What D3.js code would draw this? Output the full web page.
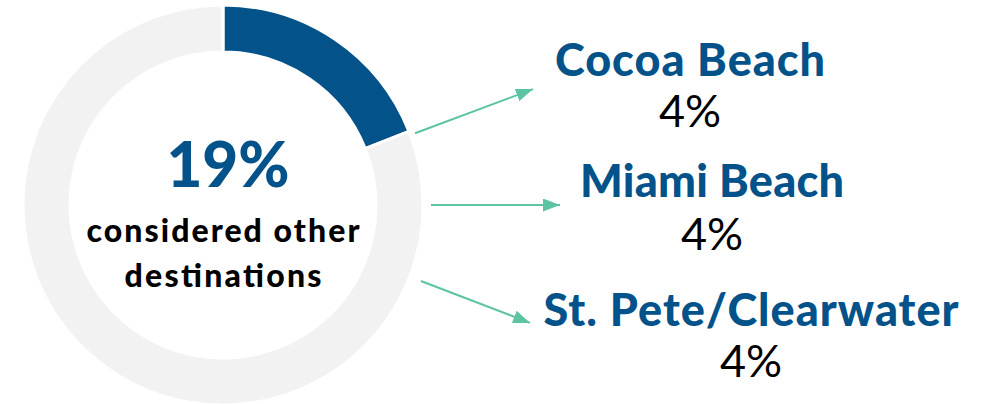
<!DOCTYPE html>
<html>
<head>
<meta charset="utf-8">
<script src="https://cdn.jsdelivr.net/npm/d3@7"></script>
<style>
  html, body { margin: 0; padding: 0; background: #fff; }
  svg { display: block; }
</style>
</head>
<body>
<div class="vis-donut"></div>
<script>
// data
const shareLabels = ["Other destinations", "Rest"];
const shareValues = [19, 81];
const destinations = ["Cocoa Beach", "Miami Beach", "St. Pete/Clearwater"];
const destinationValues = [4, 4, 4];
const centerLines = ["considered other", "destinations"];

const width = 992, height = 404;
const cx = 223, cy = 205;
const outerR = 200, innerR = 153;
const blue = "#03528a", grey = "#f2f2f2", teal = "#5cc3a3";

const svg = d3.select(".vis-donut")
    .append("svg")
    .attr("width", width)
    .attr("height", height);

// arrow head
svg.append("defs").append("marker")
    .attr("id", "head")
    .attr("viewBox", "0 0 10 10")
    .attr("preserveAspectRatio", "none")
    .attr("refX", 10).attr("refY", 5)
    .attr("markerWidth", 17).attr("markerHeight", 13)
    .attr("markerUnits", "userSpaceOnUse")
    .attr("orient", "auto")
    .append("path")
    .attr("d", "M0,0L10,5L0,10Z")
    .attr("fill", teal);

const pie = d3.pie().sort(null).value(d => d);
const arc = d3.arc().innerRadius(innerR).outerRadius(outerR);

const g = svg.append("g")
    .attr("transform", "translate(" + cx + "," + cy + ")");

g.selectAll(".slice")
    .data(pie(shareValues))
    .enter()
    .append("path")
    .attr("class", "slice")
    .attr("d", arc)
    .attr("fill", (d, i) => i === 0 ? blue : grey)
    .attr("stroke", "#fff")
    .attr("stroke-width", 3);

// center text
g.append("text")
    .attr("x", 5).attr("y", -18)
    .attr("text-anchor", "middle")
    .attr("textLength", 123)
    .attr("lengthAdjust", "spacing")
    .style("font-family", "Lato")
    .style("font-weight", 900)
    .style("font-size", "62px")
    .attr("fill", blue)
    .text(shareValues[0] + "%");

const centerWidths = [273, 197];
g.selectAll(".center-line")
    .data(centerLines)
    .enter()
    .append("text")
    .attr("class", "center-line")
    .attr("x", 0)
    .attr("y", (d, i) => 37 + i * 45)
    .attr("text-anchor", "middle")
    .attr("textLength", (d, i) => centerWidths[i])
    .attr("lengthAdjust", "spacing")
    .style("font-family", "Lato")
    .style("font-weight", 900)
    .style("font-size", "32px")
    .attr("fill", "#000")
    .text(d => d);

// arrows: angle from top, start radius, end radius
const arrowLayout = [
    {a: 69.5, r0: 205, r1: 331},
    {a: 90, r0: 208, r1: 337},
    {a: 111, r0: 212, r1: 329}
];
g.selectAll(".arrow")
    .data(arrowLayout)
    .enter()
    .append("line")
    .attr("class", "arrow")
    .attr("x1", d => d.r0 * Math.sin(d.a * Math.PI / 180))
    .attr("y1", d => -d.r0 * Math.cos(d.a * Math.PI / 180))
    .attr("x2", d => d.r1 * Math.sin(d.a * Math.PI / 180))
    .attr("y2", d => -d.r1 * Math.cos(d.a * Math.PI / 180))
    .attr("stroke", teal)
    .attr("stroke-width", 2)
    .attr("marker-end", "url(#head)");

// destination labels
const labelLayout = [
    {x: 690, y: 76, dy: 51, w: 270},
    {x: 712, y: 197, dy: 53, w: 264},
    {x: 751, y: 326, dy: 51, w: 415}
];
const labels = svg.selectAll(".dest")
    .data(destinations)
    .enter()
    .append("g")
    .attr("class", "dest")
    .attr("transform", (d, i) => "translate(" + labelLayout[i].x + "," + labelLayout[i].y + ")");

labels.append("text")
    .attr("text-anchor", "middle")
    .attr("textLength", (d, i) => labelLayout[i].w)
    .attr("lengthAdjust", "spacing")
    .style("font-family", "Lato")
    .style("font-weight", 900)
    .style("font-size", "45px")
    .attr("fill", blue)
    .text(d => d);

labels.append("text")
    .attr("text-anchor", "middle")
    .attr("y", (d, i) => labelLayout[i].dy)
    .style("font-family", "Lato")
    .style("font-weight", 400)
    .style("font-size", "45px")
    .attr("fill", "#000")
    .text((d, i) => destinationValues[i] + "%");
</script>
</body>
</html>
